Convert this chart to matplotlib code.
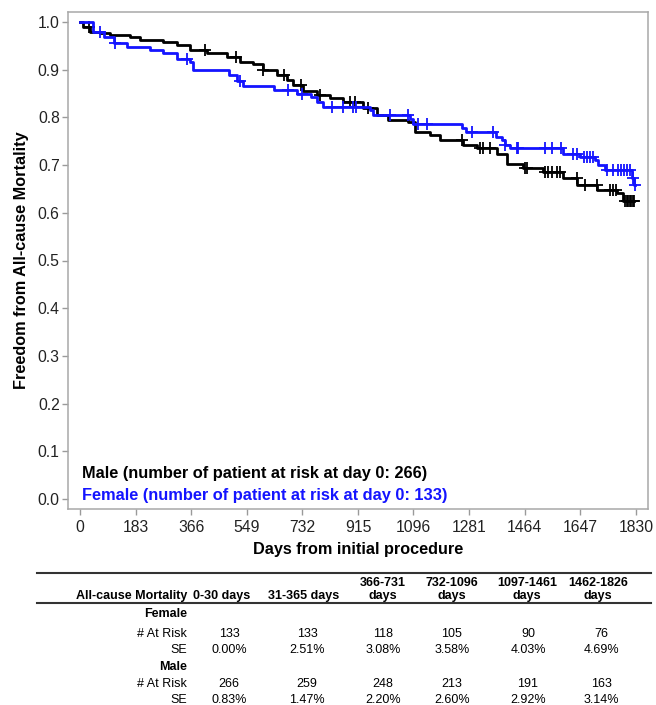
import numpy as np
import matplotlib.pyplot as plt
from matplotlib.lines import Line2D

plt.rcParams["font.family"] = ["Liberation Sans", "DejaVu Sans"]

# Kaplan-Meier estimates: event days and survival after each step
male_days = [0, 10, 33, 66, 99, 165, 197, 273, 318, 362, 417, 483, 527, 570,
             603, 647, 680, 702, 735, 779, 823, 866, 932, 976, 1015, 1080,
             1103, 1152, 1185, 1261, 1306, 1372, 1405, 1458, 1524, 1590,
             1636, 1702, 1768, 1787]
male_surv = [1.0, 0.99, 0.979, 0.976, 0.972, 0.969, 0.963, 0.958, 0.951,
             0.942, 0.935, 0.927, 0.916, 0.911, 0.899, 0.888, 0.878, 0.867,
             0.856, 0.847, 0.841, 0.832, 0.819, 0.805, 0.794, 0.791, 0.770,
             0.763, 0.752, 0.742, 0.735, 0.724, 0.703, 0.693, 0.686, 0.672,
             0.658, 0.648, 0.641, 0.625]
male_censor = [30, 410, 513, 603, 672, 728, 790, 889, 905, 949, 1256, 1317,
               1328, 1350, 1465, 1470, 1531, 1542, 1553, 1569, 1580, 1635,
               1662, 1701, 1745, 1756, 1766, 1795, 1800, 1805, 1810, 1815,
               1820, 1825]

female_days = [0, 41, 77, 110, 154, 230, 274, 318, 362, 373, 490, 515, 535,
               637, 715, 760, 779, 800, 955, 965, 1085, 1095, 1258, 1270,
               1368, 1390, 1399, 1415, 1590, 1645, 1695, 1705, 1727, 1818,
               1824]
female_surv = [1.0, 0.979, 0.969, 0.955, 0.948, 0.941, 0.934, 0.923, 0.916,
               0.900, 0.888, 0.877, 0.865, 0.857, 0.850, 0.843, 0.832, 0.822,
               0.815, 0.806, 0.797, 0.787, 0.777, 0.770, 0.759, 0.752, 0.742,
               0.735, 0.724, 0.717, 0.710, 0.700, 0.689, 0.672, 0.658]
female_censor = [66, 115, 351, 527, 685, 729, 828, 867, 899, 910, 1020, 1081,
                 1114, 1141, 1289, 1361, 1399, 1437, 1443, 1531, 1553, 1585,
                 1624, 1635, 1660, 1670, 1680, 1690, 1734, 1756, 1770, 1780,
                 1790, 1800, 1810, 1821, 1827]

x_ticks = [0, 183, 366, 549, 732, 915, 1096, 1281, 1464, 1647, 1830]
y_ticks = [0.0, 0.1, 0.2, 0.3, 0.4, 0.5, 0.6, 0.7, 0.8, 0.9, 1.0]

# risk table
periods = ["0-30 days", "31-365 days", "366-731\ndays", "732-1096\ndays",
           "1097-1461\ndays", "1462-1826\ndays"]
female_at_risk = [133, 133, 118, 105, 90, 76]
female_se = ["0.00%", "2.51%", "3.08%", "3.58%", "4.03%", "4.69%"]
male_at_risk = [266, 259, 248, 213, 191, 163]
male_se = ["0.83%", "1.47%", "2.20%", "2.60%", "2.92%", "3.14%"]

BLUE = "#1414ff"
W, H = 656, 705

fig = plt.figure(figsize=(W / 100, H / 100), dpi=100)
ax = fig.add_axes([68 / W, 1 - 509 / H, 580 / W, 497 / H])


def km_step(days, surv, censor):
    end = max(days[-1], max(censor))
    xs = list(days) + [end]
    ys = list(surv) + [surv[-1]]
    idx = np.searchsorted(days, censor, side="right") - 1
    cy = np.asarray(surv)[idx]
    return xs, ys, cy


for days, surv, censor, color in [
    (male_days, male_surv, male_censor, "black"),
    (female_days, female_surv, female_censor, BLUE),
]:
    xs, ys, cy = km_step(days, surv, censor)
    ax.plot(xs, ys, drawstyle="steps-post", color=color, lw=2.0)
    ax.plot(censor, cy, ls="none", marker="+", ms=8, mew=1.3, color=color)

ax.set_xlim(-40, 1870)
ax.set_ylim(-0.021, 1.021)
ax.set_xticks(x_ticks)
ax.set_xticklabels([str(t) for t in x_ticks])
ax.set_yticks(y_ticks)
ax.set_yticklabels([f"{t:.1f}" for t in y_ticks])
ax.tick_params(labelsize=11.3, colors="#9a9a9a", labelcolor="#222222",
               length=4, width=1)
ax.tick_params(axis="y", pad=2)
ax.tick_params(axis="x", pad=4)
for sp in ax.spines.values():
    sp.set_color("#a8a8a8")
    sp.set_linewidth(1.1)

ax.set_xlabel("Days from initial procedure", fontsize=11.7,
              fontweight="bold", labelpad=5)
ax.set_ylabel("Freedom from All-cause Mortality", fontsize=11.7,
              fontweight="bold", labelpad=6)

ax.text(0.024, 0.072, "Male (number of patient at risk at day 0: 266)",
        transform=ax.transAxes, fontsize=11.8, fontweight="bold",
        color="black", va="center")
ax.text(0.024, 0.028, "Female (number of patient at risk at day 0: 133)",
        transform=ax.transAxes, fontsize=11.8, fontweight="bold",
        color=BLUE, va="center")


def px(x, y):
    return x / W, 1 - y / H


# table rules
for yy in (572.7, 603):
    fig.add_artist(Line2D([37 / W, 651 / W], [1 - yy / H] * 2,
                          color="#333333", lw=1.5))

head_x = [222, 304, 383, 452, 527, 598]
val_x = [229, 307, 383, 452, 528, 601]
label_r = 187
fs = 9.0

fig.text(*px(label_r, 596), "All-cause Mortality", ha="right",
         va="center", fontsize=fs, fontweight="bold")
for x, p in zip(head_x, periods):
    yc = 596 if "\n" not in p else 589.5
    fig.text(*px(x, yc), p, ha="center", va="center", fontsize=fs,
             fontweight="bold", linespacing=1.0)

rows = [
    (614, "Female", None, True),
    (634, "# At Risk", female_at_risk, False),
    (650, "SE", female_se, False),
    (667, "Male", None, True),
    (684, "# At Risk", male_at_risk, False),
    (700, "SE", male_se, False),
]
for yy, label, vals, bold in rows:
    fig.text(*px(label_r, yy), label, ha="right", va="center", fontsize=fs,
             fontweight="bold" if bold else "normal")
    if vals is None:
        continue
    for x, v in zip(val_x, vals):
        fig.text(*px(x, yy), str(v), ha="center", va="center", fontsize=fs)

fig.savefig("out.png", dpi=100)
